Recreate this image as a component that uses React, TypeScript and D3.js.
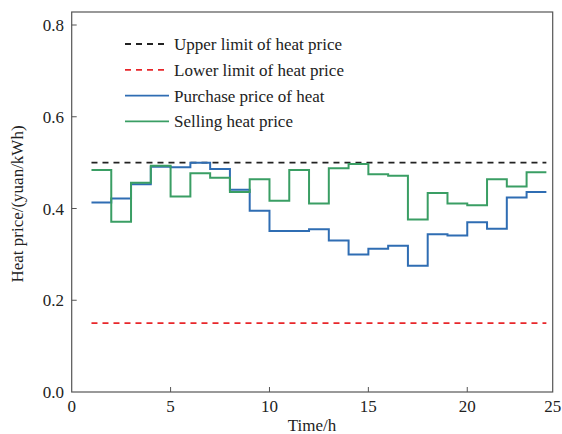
import * as d3 from "d3";

// hourly step values (hour 1..24, last value repeated so the step reaches 24)
const hours = d3.range(1, 25);
const purchasePrice = [
  0.413, 0.422, 0.453, 0.491, 0.49, 0.5, 0.486, 0.441, 0.395, 0.351, 0.351, 0.355,
  0.33, 0.3, 0.312, 0.319, 0.275, 0.344, 0.341, 0.37, 0.356, 0.424, 0.436, 0.436,
];
const sellingPrice = [
  0.484, 0.371, 0.456, 0.493, 0.426, 0.477, 0.467, 0.436, 0.464, 0.417, 0.484, 0.411,
  0.488, 0.497, 0.4745, 0.4715, 0.376, 0.434, 0.411, 0.407, 0.464, 0.448, 0.479, 0.479,
];
const upperLimit = 0.5;
const lowerLimit = 0.15;

const xTicks = [0, 5, 10, 15, 20, 25];
const yTicks = [0, 0.2, 0.4, 0.6, 0.8];

const legendItems = [
  { label: "Upper limit of heat price", color: "#222222", dash: "6,5" },
  { label: "Lower limit of heat price", color: "#e8262a", dash: "6,5" },
  { label: "Purchase price of heat", color: "#2f6db3", dash: null },
  { label: "Selling heat price", color: "#3a9e64", dash: null },
];

const FONT = "'Liberation Serif', 'DejaVu Serif', serif";
const FS = 17;

export default function App() {
  const left = 71.7;
  const right = 552.7;
  const top = 12;
  const bottom = 392;

  // axis frame ends a little past hour 24; the "25" label sits on the frame edge
  const x = d3.scaleLinear().domain([0, 24.32]).range([left, right]).clamp(true);
  const y = d3.scaleLinear().domain([0, 0.8]).range([bottom, 25]);

  const step = d3
    .line<number>()
    .x((_, i) => x(hours[i]))
    .y((d) => y(d))
    .curve(d3.curveStepAfter);

  const flat = (v: number) =>
    d3.line<number>().x((h) => x(h)).y(() => y(v))([1, 24]) ?? "";

  return (
    <svg width={562} height={434} style={{ position: "absolute", left: 0, top: 0 }}>
      <rect width={562} height={434} fill="#fff" />

      {/* limits */}
      <path d={flat(upperLimit)} stroke="#222" strokeWidth={1.8} strokeDasharray="6,5" fill="none" />
      <path d={flat(lowerLimit)} stroke="#e8262a" strokeWidth={1.8} strokeDasharray="6,5" fill="none" />

      {/* price steps */}
      <path d={step(purchasePrice) ?? ""} stroke="#2f6db3" strokeWidth={2} fill="none" />
      <path d={step(sellingPrice) ?? ""} stroke="#3a9e64" strokeWidth={2} fill="none" />

      {/* frame */}
      <rect x={left} y={top} width={right - left} height={bottom - top} fill="none" stroke="#555" strokeWidth={1.2} />

      {/* x axis */}
      {xTicks.map((t) => (
        <g key={t}>
          {t > 0 && t < 25 && (
            <line x1={x(t)} x2={x(t)} y1={bottom} y2={bottom - 5} stroke="#555" strokeWidth={1} />
          )}
          <text x={x(t)} y={412} textAnchor="middle" fontFamily={FONT} fontSize={FS} fill="#222">
            {t}
          </text>
        </g>
      ))}
      <text x={312} y={431} textAnchor="middle" fontFamily={FONT} fontSize={FS} fill="#222">
        Time/h
      </text>

      {/* y axis */}
      {yTicks.map((t) => (
        <g key={t}>
          {t > 0 && (
            <line x1={left} x2={left + 5} y1={y(t)} y2={y(t)} stroke="#555" strokeWidth={1} />
          )}
          <text x={64} y={y(t) + 6} textAnchor="end" fontFamily={FONT} fontSize={FS} fill="#222">
            {t.toFixed(1)}
          </text>
        </g>
      ))}
      <text
        transform="translate(23,204) rotate(-90)"
        textAnchor="middle"
        fontFamily={FONT}
        fontSize={FS}
        fill="#222"
      >
        Heat price/(yuan/kWh)
      </text>

      {/* legend */}
      {legendItems.map((it, i) => {
        const ly = 44 + i * 25.8;
        return (
          <g key={it.label}>
            <line
              x1={125}
              x2={169}
              y1={ly}
              y2={ly}
              stroke={it.color}
              strokeWidth={1.8}
              strokeDasharray={it.dash ?? undefined}
            />
            <text x={174} y={ly + 6} fontFamily={FONT} fontSize={FS} fill="#222">
              {it.label}
            </text>
          </g>
        );
      })}
    </svg>
  );
}
